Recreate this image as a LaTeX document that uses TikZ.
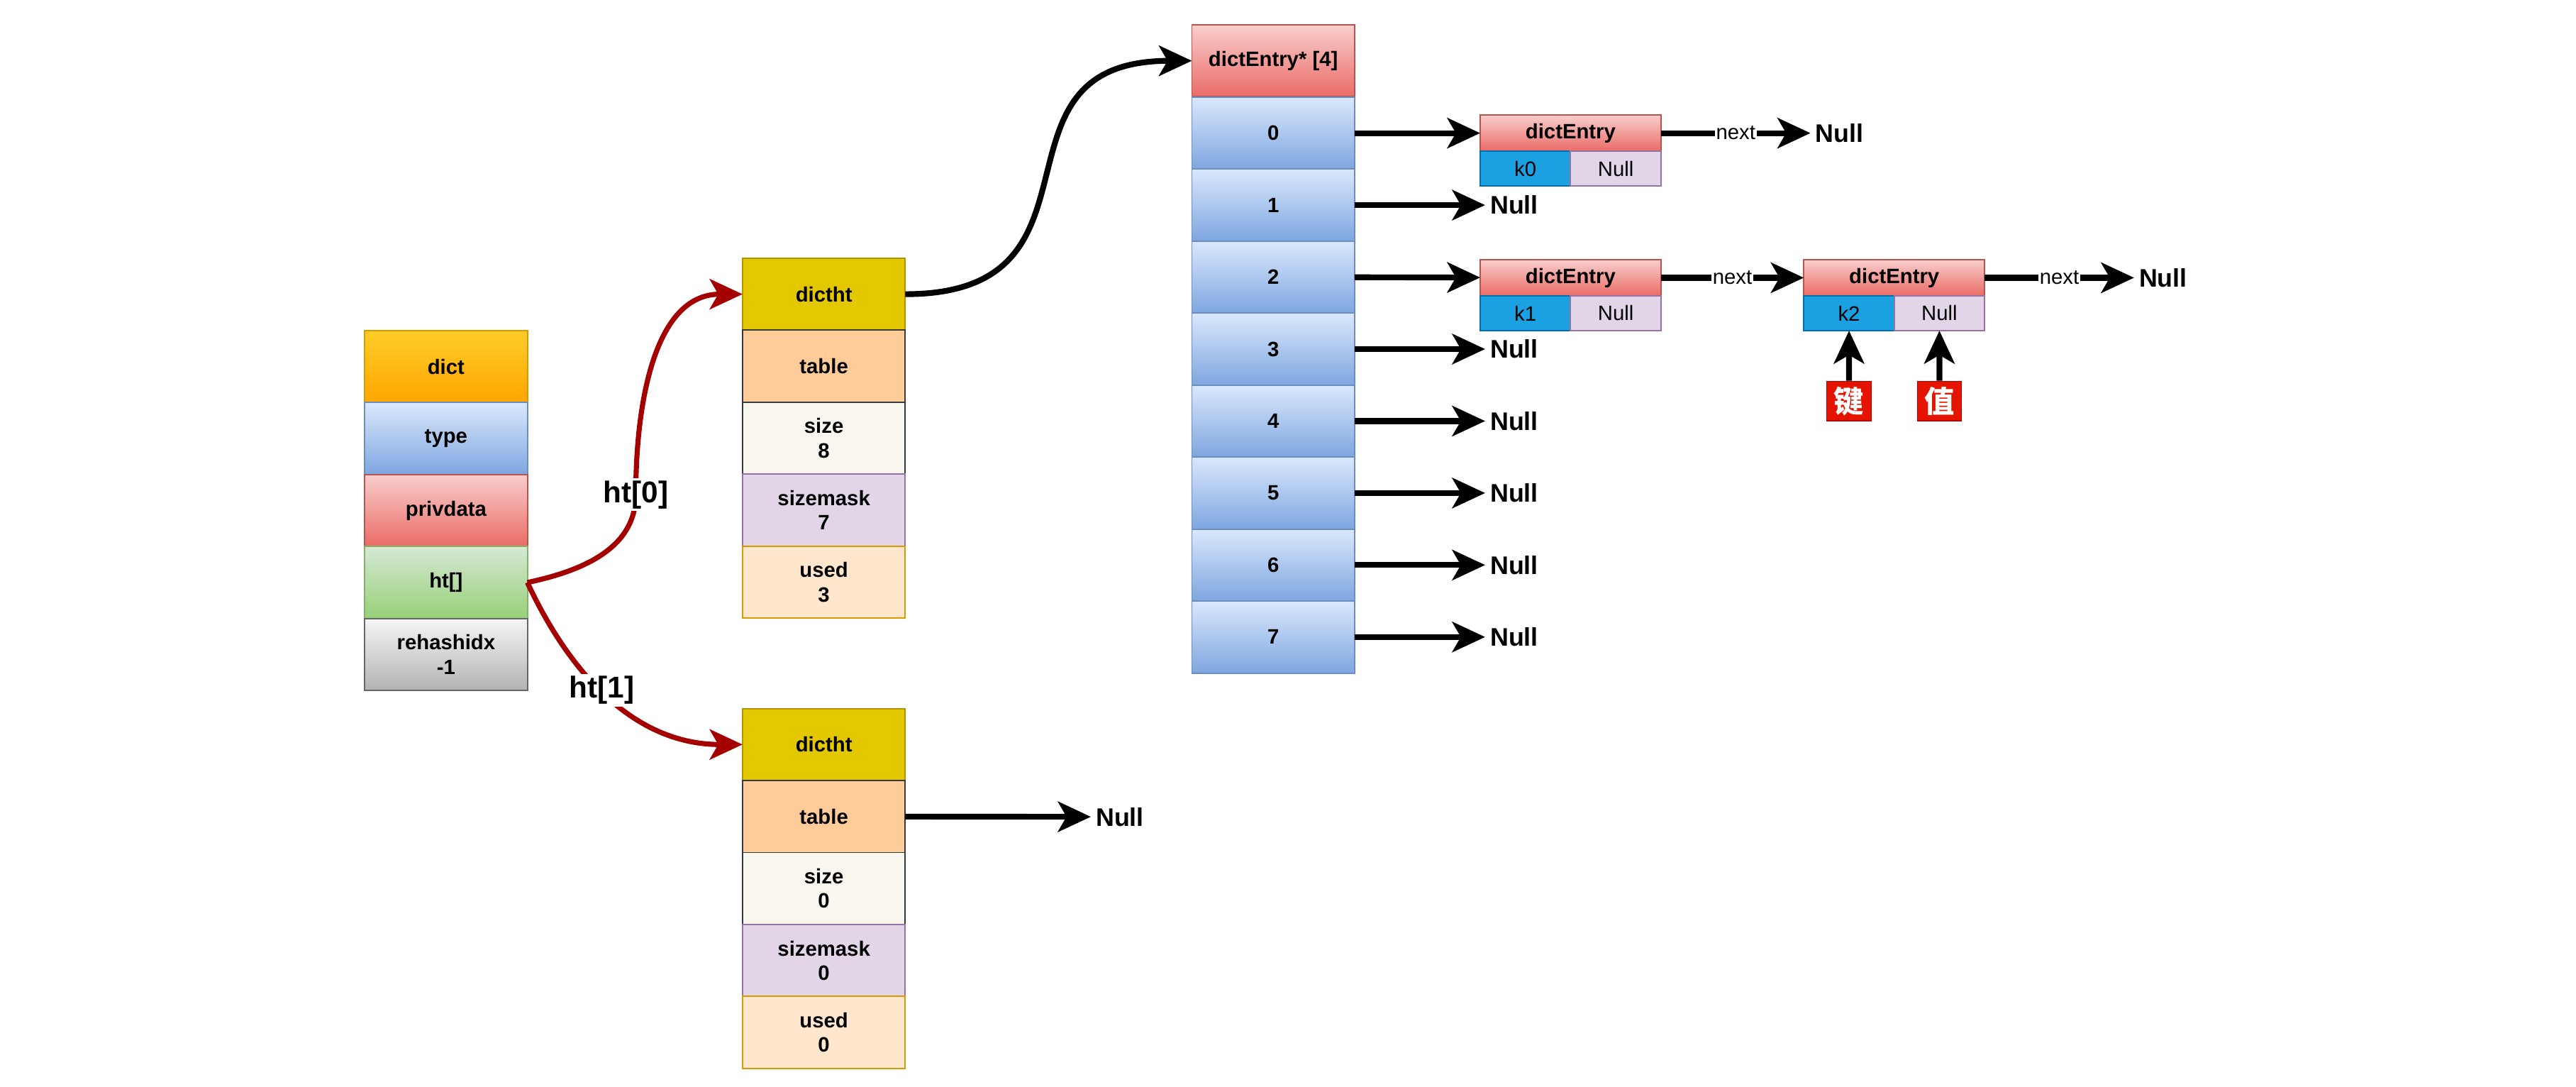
\documentclass[tikz,border=0pt]{standalone}
\usepackage{fontspec}
\setmainfont{Liberation Sans}
\newfontfamily\cjk{Noto Sans CJK SC}
\usetikzlibrary{positioning,arrows.meta}

\definecolor{dictTop}{HTML}{FFCD28}
\definecolor{dictBot}{HTML}{FFA500}
\definecolor{dictLine}{HTML}{D79B00}
\definecolor{blueTop}{HTML}{DAE8FC}
\definecolor{blueBot}{HTML}{7EA6E0}
\definecolor{blueLine}{HTML}{6C8EBF}
\definecolor{redTop}{HTML}{F8CECC}
\definecolor{redBot}{HTML}{EA6B66}
\definecolor{redLine}{HTML}{B85450}
\definecolor{greenTop}{HTML}{D5E8D4}
\definecolor{greenBot}{HTML}{97D077}
\definecolor{greenLine}{HTML}{82B366}
\definecolor{greyTop}{HTML}{F5F5F5}
\definecolor{greyBot}{HTML}{B3B3B3}
\definecolor{greyLine}{HTML}{666666}
\definecolor{htFill}{HTML}{E3C800}
\definecolor{htLine}{HTML}{B09500}
\definecolor{tableFill}{HTML}{FFCC99}
\definecolor{darkLine}{HTML}{36393D}
\definecolor{sizeFill}{HTML}{F9F7ED}
\definecolor{purpleFill}{HTML}{E1D5E7}
\definecolor{purpleLine}{HTML}{9673A6}
\definecolor{usedFill}{HTML}{FFE6CC}
\definecolor{keyFill}{HTML}{1BA1E2}
\definecolor{keyLine}{HTML}{006EAF}
\definecolor{tagFill}{HTML}{E51400}
\definecolor{tagLine}{HTML}{B20000}
\definecolor{htArrow}{HTML}{A50000}

\tikzset{
  cell/.style={draw, line width=0.6pt, minimum width=2.475cm, minimum height=1.095cm,
    inner sep=0pt, outer sep=0pt, align=center, font=\bfseries\fontsize{9}{10.5}\selectfont},
  blue/.style={top color=blueTop, bottom color=blueBot, draw=blueLine},
  pink/.style={top color=redTop, bottom color=redBot, draw=redLine},
  entryhead/.style={cell, pink, minimum width=2.75cm, minimum height=0.55cm},
  half/.style={draw, line width=0.6pt, minimum width=1.375cm, minimum height=0.53cm,
    inner sep=0pt, outer sep=0pt, font=\fontsize{9}{10}\selectfont},
  keyhalf/.style={half, fill=keyFill, draw=keyLine},
  valhalf/.style={half, fill=purpleFill, draw=purpleLine},
  ptr/.style={line width=2.5pt, -{Stealth[length=0.5cm,width=0.46cm,inset=0.13cm]}},
  redptr/.style={ptr, line width=2.2pt, draw=htArrow},
  nulltext/.style={anchor=west, inner sep=2pt, font=\bfseries\fontsize{11}{13}\selectfont},
  nextlabel/.style={fill=white, inner sep=0.5pt, font=\fontsize{9}{10}\selectfont},
  htlabel/.style={fill=white, inner sep=1pt, font=\bfseries\fontsize{13}{15}\selectfont},
  tag/.style={fill=tagFill, draw=tagLine, text=white, minimum width=0.675cm, minimum height=0.6cm,
    inner sep=0pt, font=\cjk\bfseries\fontsize{13}{13}\selectfont}
}

\begin{document}
\begin{tikzpicture}[x=0.025cm, y=-0.025cm]
  \useasboundingbox (0,0) rectangle (1568,661);

  % dict
  \node[cell, top color=dictTop, bottom color=dictBot, draw=dictLine] (dict) at (271.5,223) {dict};
  \node[cell, blue, below=0pt of dict] (type) {type};
  \node[cell, pink, below=0pt of type] (privdata) {privdata};
  \node[cell, top color=greenTop, bottom color=greenBot, draw=greenLine, below=0pt of privdata] (ht) {ht[]};
  \node[cell, top color=greyTop, bottom color=greyBot, draw=greyLine, below=0pt of ht] (rehash) {rehashidx\\-1};

  % dictht 0
  \node[cell, fill=htFill, draw=htLine] (ht0) at (501.5,179) {dictht};
  \node[cell, fill=tableFill, draw=darkLine, below=0pt of ht0] (table0) {table};
  \node[cell, fill=sizeFill, draw=darkLine, below=0pt of table0] (size0) {size\\8};
  \node[cell, fill=purpleFill, draw=purpleLine, below=0pt of size0] (mask0) {sizemask\\7};
  \node[cell, fill=usedFill, draw=dictLine, below=0pt of mask0] (used0) {used\\3};

  % dictht 1
  \node[cell, fill=htFill, draw=htLine] (ht1) at (501.5,453) {dictht};
  \node[cell, fill=tableFill, draw=darkLine, below=0pt of ht1] (table1) {table};
  \node[cell, fill=sizeFill, draw=darkLine, below=0pt of table1] (size1) {size\\0};
  \node[cell, fill=purpleFill, draw=purpleLine, below=0pt of size1] (mask1) {sizemask\\0};
  \node[cell, fill=usedFill, draw=dictLine, below=0pt of mask1] (used1) {used\\0};

  % ht[0] and ht[1]
  \coordinate (w0) at (387,301);
  \draw[redptr] (ht.east) to[out=12,in=-90] (w0) to[out=90,in=180] (ht0.west);
  \node[htlabel] at (w0) {ht[0]};
  \draw[redptr] (ht.east) to[out=-65,in=180] node[htlabel, pos=0.45] {ht[1]} (ht1.west);

  \node[nulltext] (tnull) at (664,497) {Null};
  \draw[ptr] (table1) -- (tnull);

  % buckets
  \node[cell, pink] (arr) at (775,37) {dictEntry* [4]};
  \foreach \i in {0,...,7}
    \node[cell, blue] (b\i) at (775,{81+43.8*\i}) {\i};
  \draw[ptr] (ht0.east) to[out=0,in=180,looseness=1.5] (arr.west);

  \foreach \i in {1,3,4,5,6,7} {
    \node[nulltext] (n\i) at (904,{81+43.8*\i}) {Null};
    \draw[ptr] (b\i) -- (n\i);
  }

  % entries
  \node[entryhead] (e0) at (956,81) {dictEntry};
  \node[keyhalf, anchor=north west] (e0k) at (e0.south west) {k0};
  \node[valhalf, anchor=north east] (e0v) at (e0.south east) {Null};

  \node[entryhead] (e1) at (956,169) {dictEntry};
  \node[keyhalf, anchor=north west] (e1k) at (e1.south west) {k1};
  \node[valhalf, anchor=north east] (e1v) at (e1.south east) {Null};

  \node[entryhead] (e2) at (1153,169) {dictEntry};
  \node[keyhalf, anchor=north west] (e2k) at (e2.south west) {k2};
  \node[valhalf, anchor=north east] (e2v) at (e2.south east) {Null};

  \draw[ptr] (b0) -- (e0);
  \draw[ptr] (b2) -- (e1);

  \node[nulltext] (x0) at (1102,81) {Null};
  \node[nulltext] (x2) at (1299,169) {Null};
  \draw[ptr] (e0) -- node[nextlabel] {next} (x0);
  \draw[ptr] (e1) -- node[nextlabel] {next} (e2);
  \draw[ptr] (e2) -- node[nextlabel] {next} (x2);

  % key / value
  \node[tag] (key) at (1125.5,244) {键};
  \node[tag] (val) at (1180.5,244) {值};
  \draw[ptr] (key) -- (e2k);
  \draw[ptr] (val) -- (e2v);
\end{tikzpicture}
\end{document}
